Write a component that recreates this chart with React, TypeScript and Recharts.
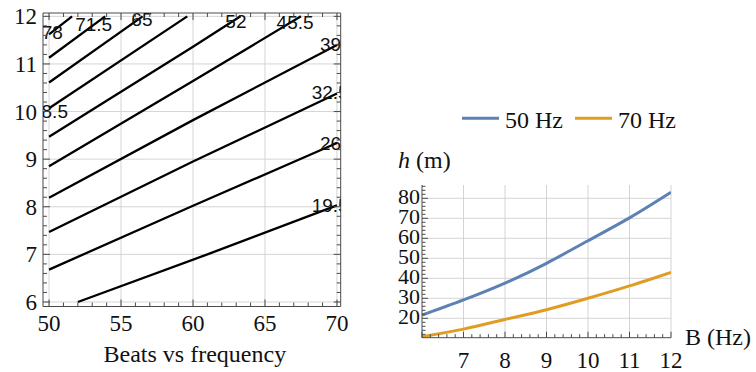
import {
  Legend,
  Line,
  LineChart,
  ReferenceDot,
  ReferenceLine,
  XAxis,
  YAxis,
} from "recharts";

const SERIF = '"Liberation Serif", "Times New Roman", serif';
const SANS = '"Liberation Sans", Arial, sans-serif';
const FRAME = "#4a4a4a";
const GRID = "#d4d4d4";
const INK = "#111";
const BLUE = "#5e81b5";
const ORANGE = "#e19c24";

// left panel: contours of h (m) over frequency f and beats B
const LEVELS = ["19.5", "26", "32.5", "39", "45.5", "52", "58.5", "65", "71.5", "78"];
const CONTOUR_F = [
  [52, 61, 70],
  [50, 60, 70],
  [50, 60, 70],
  [50, 60, 70],
  [50, 60, 67.5],
  [50, 60, 63.3],
  [50, 59.6],
  [50, 56.5],
  [50, 53.9],
  [50, 51.6],
];
const CONTOUR_B = [
  [6.0, 7.0, 8.03],
  [6.68, 8.02, 9.34],
  [7.47, 8.95, 10.38],
  [8.19, 9.82, 11.4],
  [8.85, 10.64, 12.0],
  [9.47, 11.36, 12.0],
  [10.07, 12.0],
  [10.61, 12.0],
  [11.13, 12.0],
  [11.62, 12.0],
];
// where each level's label sits
const LABEL_F = [69.53, 69.55, 69.53, 69.55, 67.09, 62.98, 50.03, 56.45, 53.1, 50.22];
const LABEL_B = [8.03, 9.32, 10.39, 11.4, 11.88, 11.9, 10.01, 11.93, 11.82, 11.66];

const F_LABELS = [50, 55, 60, 65, 70];
const B_LABELS = [6, 7, 8, 9, 10, 11, 12];

// right panel: h (m) against B (Hz)
const B_HZ = [6, 7, 8, 9, 10, 11, 12];
const H_50HZ = [21.6, 29.2, 37.6, 47.5, 58.8, 70.2, 83.0];
const H_70HZ = [10.8, 14.6, 19.4, 24.3, 30.0, 36.2, 43.0];
const SERIES = [
  { key: "h50", name: "50 Hz", color: BLUE },
  { key: "h70", name: "70 Hz", color: ORANGE },
];
const H_LABELS = [20, 30, 40, 50, 60, 70, 80];
const BHZ_LABELS = [7, 8, 9, 10, 11, 12];

// minor tick marks only
function steps(from: number, to: number, step: number) {
  const out: number[] = [];
  for (let v = from; v <= to + 1e-9; v += step) out.push(Math.round(v * 1000) / 1000);
  return out;
}
const isIn = (arr: number[], v: number) => arr.some((a) => Math.abs(a - v) < 1e-6);

const contours = LEVELS.map((_, i) =>
  CONTOUR_F[i].map((f, j) => ({ f, b: CONTOUR_B[i][j] }))
);
const heightRows = B_HZ.map((b, i) => ({ b, h50: H_50HZ[i], h70: H_70HZ[i] }));

function FBottomTick({ x, y, payload }: any) {
  const major = isIn(F_LABELS, payload.value);
  return (
    <g>
      <line x1={x} x2={x} y1={y} y2={y - (major ? 7 : 4)} stroke={FRAME} />
      {major && (
        <text x={x} y={y + 24} textAnchor="middle" fontFamily={SERIF} fontSize={23} fill={INK}>
          {payload.value}
        </text>
      )}
    </g>
  );
}

function FTopTick({ x, y, payload }: any) {
  const major = isIn(F_LABELS, payload.value);
  return <line x1={x} x2={x} y1={y} y2={y + (major ? 7 : 4)} stroke={FRAME} />;
}

function BLeftTick({ x, y, payload }: any) {
  const major = isIn(B_LABELS, payload.value);
  return (
    <g>
      <line x1={x} x2={x + (major ? 7 : 4)} y1={y} y2={y} stroke={FRAME} />
      {major && (
        <text x={x - 6} y={y + 8} textAnchor="end" fontFamily={SERIF} fontSize={23} fill={INK}>
          {payload.value}
        </text>
      )}
    </g>
  );
}

function BRightTick({ x, y, payload }: any) {
  const major = isIn(B_LABELS, payload.value);
  return <line x1={x} x2={x - (major ? 7 : 4)} y1={y} y2={y} stroke={FRAME} />;
}

function ContourText({ cx, cy, clipPath, text }: any) {
  return (
    <text
      x={cx}
      y={cy}
      textAnchor="middle"
      dominantBaseline="central"
      fontFamily={SANS}
      fontSize={19}
      fill={INK}
      clipPath={clipPath}
    >
      {text}
    </text>
  );
}

function BeatsTitle({ viewBox }: any) {
  return (
    <text
      x={viewBox.x + viewBox.width / 2 + 3}
      y={viewBox.y + 55.5}
      textAnchor="middle"
      fontFamily={SERIF}
      fontSize={24}
      fill={INK}
    >
      Beats vs frequency
    </text>
  );
}

function ContourPanel() {
  return (
    <LineChart width={360} height={372} margin={{ top: 12, right: 18.3, bottom: 0, left: 0 }}>
      <XAxis
        xAxisId="b"
        dataKey="f"
        type="number"
        domain={[49.58, 70.26]}
        allowDataOverflow
        ticks={steps(50, 70, 1)}
        interval={0}
        tickLine={false}
        tickSize={0}
        tickMargin={0}
        tick={FBottomTick}
        axisLine={{ stroke: FRAME }}
        height={65.5}
        label={BeatsTitle}
      />
      <XAxis
        xAxisId="t"
        orientation="top"
        dataKey="f"
        type="number"
        domain={[49.58, 70.26]}
        allowDataOverflow
        ticks={steps(50, 70, 1)}
        interval={0}
        tickLine={false}
        tickSize={0}
        tickMargin={0}
        tick={FTopTick}
        axisLine={{ stroke: FRAME }}
        height={1}
      />
      <YAxis
        yAxisId="l"
        type="number"
        domain={[5.905, 12.07]}
        allowDataOverflow
        ticks={steps(6, 12, 0.2)}
        interval={0}
        tickLine={false}
        tickSize={0}
        tickMargin={0}
        tick={BLeftTick}
        axisLine={{ stroke: FRAME }}
        width={43}
      />
      <YAxis
        yAxisId="r"
        orientation="right"
        type="number"
        domain={[5.905, 12.07]}
        allowDataOverflow
        ticks={steps(6, 12, 0.2)}
        interval={0}
        tickLine={false}
        tickSize={0}
        tickMargin={0}
        tick={BRightTick}
        axisLine={{ stroke: FRAME }}
        width={1}
      />
      {F_LABELS.map((f) => (
        <ReferenceLine key={`gf${f}`} xAxisId="b" yAxisId="l" x={f} stroke={GRID} />
      ))}
      {B_LABELS.map((b) => (
        <ReferenceLine key={`gb${b}`} xAxisId="b" yAxisId="l" y={b} stroke={GRID} />
      ))}
      {contours.map((pts, i) => (
        <Line
          key={LEVELS[i]}
          xAxisId="b"
          yAxisId="l"
          data={pts}
          dataKey="b"
          type="linear"
          stroke="#000"
          strokeWidth={2.3}
          dot={false}
          isAnimationActive={false}
        />
      ))}
      {LEVELS.map((lv, i) => (
        <ReferenceDot
          key={`lab${lv}`}
          xAxisId="b"
          yAxisId="l"
          x={LABEL_F[i]}
          y={LABEL_B[i]}
          ifOverflow="hidden"
          shape={(p: any) => <ContourText {...p} text={lv} />}
        />
      ))}
    </LineChart>
  );
}

function BHzBottomTick({ x, y, payload }: any) {
  const labelled = isIn(BHZ_LABELS, payload.value);
  const major = labelled || payload.value === 6;
  return (
    <g>
      <line x1={x} x2={x} y1={y} y2={y - (major ? 6 : 3.5)} stroke={FRAME} />
      {labelled && (
        <text x={x} y={y + 30} textAnchor="middle" fontFamily={SERIF} fontSize={23} fill={INK}>
          {payload.value}
        </text>
      )}
    </g>
  );
}

function HLeftTick({ x, y, payload }: any) {
  const major = isIn(H_LABELS, payload.value);
  return (
    <g>
      <line x1={x} x2={x + (major ? 6 : 3.5)} y1={y} y2={y} stroke={FRAME} />
      {major && (
        <text x={x - 2} y={y + 5.5} textAnchor="end" fontFamily={SERIF} fontSize={22} fill={INK}>
          {payload.value}
        </text>
      )}
    </g>
  );
}

function HTitle({ viewBox }: any) {
  return (
    <text x={viewBox.x + 18} y={viewBox.y - 17} fontFamily={SERIF} fontSize={24} fill={INK}>
      <tspan fontStyle="italic">h</tspan> (m)
    </text>
  );
}

function BHzTitle({ viewBox }: any) {
  return (
    <text x={viewBox.x + viewBox.width + 14} y={viewBox.y + 7.5} fontFamily={SERIF} fontSize={24} fill={INK}>
      B (Hz)
    </text>
  );
}

function SeriesLegend({ payload }: any) {
  return (
    <svg width={376} height={40}>
      {(payload || []).map((p: any, i: number) => (
        <g key={p.value}>
          <line x1={82 + i * 113} x2={119 + i * 113} y1={18.3} y2={18.3} stroke={p.color} strokeWidth={3} />
          <text x={125 + i * 113} y={28} fontFamily={SERIF} fontSize={24} fill={INK}>
            {p.value}
          </text>
        </g>
      ))}
    </svg>
  );
}

function HeightPanel() {
  return (
    <LineChart width={376} height={272} data={heightRows} margin={{ top: 85, right: 85, bottom: 4.3, left: 0 }}>
      <XAxis
        dataKey="b"
        type="number"
        domain={[6, 12]}
        allowDataOverflow
        ticks={steps(6, 12, 0.2)}
        interval={0}
        tickLine={false}
        tickSize={0}
        tickMargin={0}
        tick={BHzBottomTick}
        axisLine={{ stroke: FRAME }}
        height={30}
        label={BHzTitle}
      />
      <YAxis
        type="number"
        domain={[10.3, 86.65]}
        allowDataOverflow
        ticks={steps(12, 86, 2)}
        interval={0}
        tickLine={false}
        tickSize={0}
        tickMargin={0}
        tick={HLeftTick}
        axisLine={{ stroke: FRAME }}
        width={42}
        label={HTitle}
      />
      {BHZ_LABELS.map((b) => (
        <ReferenceLine key={`gx${b}`} x={b} stroke={GRID} />
      ))}
      {H_LABELS.map((h) => (
        <ReferenceLine key={`gy${h}`} y={h} stroke={GRID} />
      ))}
      {SERIES.map((s) => (
        <Line
          key={s.key}
          dataKey={s.key}
          name={s.name}
          type="natural"
          stroke={s.color}
          strokeWidth={3}
          dot={false}
          isAnimationActive={false}
        />
      ))}
      <Legend
        layout="horizontal"
        verticalAlign="middle"
        align="center"
        content={SeriesLegend}
        wrapperStyle={{ top: 0, left: 0, width: 376, height: 40 }}
      />
    </LineChart>
  );
}

export default function App() {
  return (
    <div style={{ position: "absolute", left: 0, top: 0, width: 756, height: 372, background: "#fff" }}>
      <div style={{ position: "absolute", left: 0, top: 0 }}>
        <ContourPanel />
      </div>
      <div style={{ position: "absolute", left: 380, top: 100 }}>
        <HeightPanel />
      </div>
    </div>
  );
}
